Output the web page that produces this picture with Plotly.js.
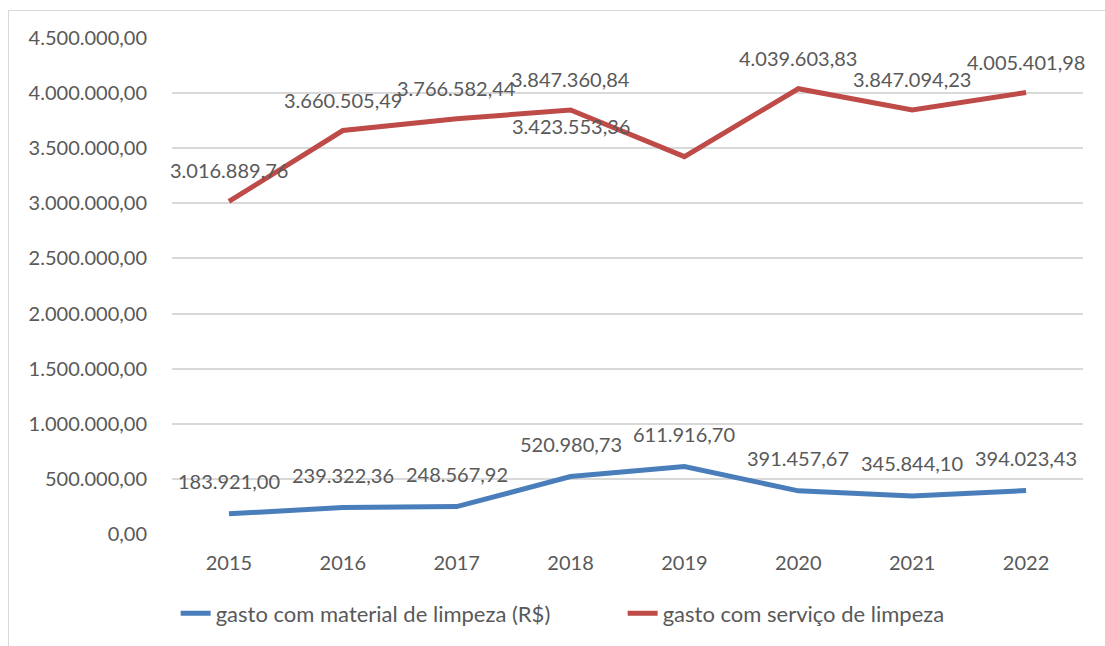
<!DOCTYPE html>
<html>
<head>
<meta charset="utf-8">
<script src="https://cdn.plot.ly/plotly-3.0.1.min.js"></script>
<style>
  body { margin: 0; background: #fff; }
  #grafico { width: 1105px; height: 646px; }
  #moldura { position: absolute; left: 8px; top: 10px; width: 1200px; height: 700px;
             border: 1px solid #d9d9d9; pointer-events: none; }
</style>
</head>
<body>
<div id="grafico"></div>
<div id="moldura"></div>
<script>
const anos = ["2015", "2016", "2017", "2018", "2019", "2020", "2021", "2022"];
const material = [183921.00, 239322.36, 248567.92, 520980.73, 611916.70, 391457.67, 345844.10, 394023.43];
const servico = [3016889.76, 3660505.49, 3766582.44, 3847360.84, 3423553.36, 4039603.83, 3847094.23, 4005401.98];

const nomeMaterial = "gasto com material de limpeza (R$)";
const nomeServico = "gasto com serviço de limpeza";

// formato brasileiro: 1.234.567,89
function brl(v) {
  const partes = v.toFixed(2).split(".");
  return partes[0].replace(/\B(?=(\d{3})+(?!\d))/g, ".") + "," + partes[1];
}

const fonte = { family: "Lato, 'Liberation Sans', sans-serif", size: 20, color: "#595959" };
const fonteLegenda = { family: "Lato, 'Liberation Sans', sans-serif", size: 22, color: "#595959" };

// rótulos de dados (o de 2019 do serviço foi deslocado à esquerda no original)
const rotulos = [];
anos.forEach((a, i) => {
  rotulos.push({ x: i, y: material[i], text: brl(material[i]), showarrow: false,
    yshift: 33, font: fonte });
  rotulos.push({ x: i, y: servico[i], text: brl(servico[i]), showarrow: false,
    yshift: 31, xshift: a === "2019" ? -113 : 0, font: fonte });
});

Plotly.newPlot("grafico", [
  { x: anos, y: material, name: nomeMaterial, type: "scatter", mode: "lines",
    line: { color: "#4a7ebb", width: 5 } },
  { x: anos, y: servico, name: nomeServico, type: "scatter", mode: "lines",
    line: { color: "#be4b48", width: 5 } }
], {
  width: 1105, height: 646,
  margin: { l: 172, r: 22, t: 38, b: 110 },
  paper_bgcolor: "#fff", plot_bgcolor: "#fff",
  font: fonte,
  showlegend: true,
  legend: { orientation: "h", x: 0.004, xanchor: "left", y: -0.16, yanchor: "middle",
    font: fonteLegenda, entrywidth: 402, entrywidthmode: "pixels" },
  xaxis: { type: "category", range: [-0.5, 7.5], showgrid: false, zeroline: false,
    showline: false, ticks: "", ticklabelstandoff: 15, tickfont: fonte },
  yaxis: { range: [0, 4500000], dtick: 500000, tickformat: ",.2f", showgrid: true,
    gridcolor: "#d9d9d9", gridwidth: 1.5, zeroline: false, showline: false, ticks: "",
    ticklabelstandoff: 24, tickfont: fonte },
  separators: ",.",
  annotations: rotulos
}, { displayModeBar: false });
</script>
</body>
</html>
